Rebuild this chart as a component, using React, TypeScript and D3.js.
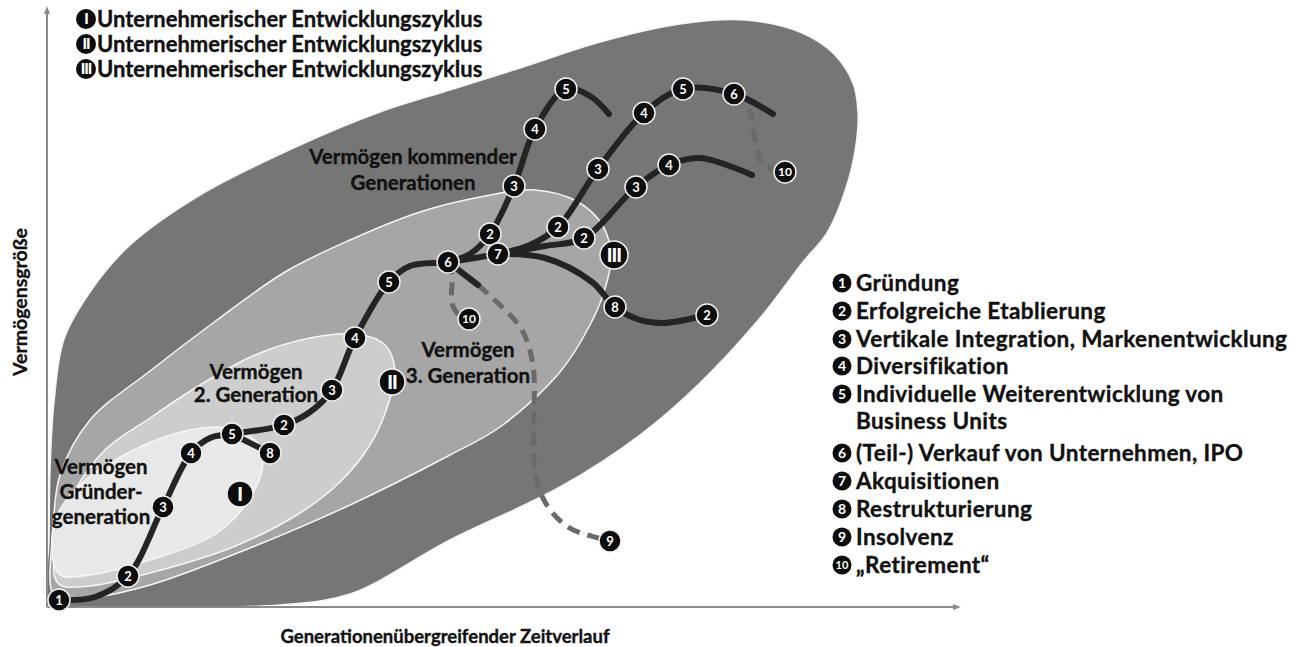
import React from "react";
import * as d3 from "d3";

type P = [number, number];

// Conceptual units: x = generation-spanning time, y = size of wealth
const timeDomain: P = [0, 910];
const wealthDomain: P = [0, 597];

// Wealth regions (closed outlines)
const outerRegion: P[] = [
  [1, 7], [2, 67], [3, 137], [7, 205], [17, 268], [43, 315], [83, 362], [153, 412], [253, 462],
  [333, 495], [406, 518], [473, 539], [553, 565], [633, 583], [698, 587], [753, 575], [786, 554],
  [806, 524], [811, 495], [809, 462], [799, 419], [780, 374], [756, 345], [713, 289], [653, 224],
  [593, 172], [513, 120], [403, 67], [303, 13], [233, 2], [153, 0], [63, 0], [13, 1],
];
const thirdRegion: P[] = [
  [5, 15], [6, 77], [13, 132], [43, 187], [103, 236], [170, 287], [238, 335], [303, 367], [373, 395],
  [433, 410], [488, 417], [531, 405], [556, 381], [564, 349], [557, 315], [543, 282], [513, 235],
  [453, 180], [403, 152], [303, 102], [203, 59], [103, 22], [43, 9], [13, 9],
];
const secondRegion: P[] = [
  [8, 29], [11, 77], [28, 117], [58, 157], [103, 189], [153, 222], [208, 252], [263, 269], [310, 273],
  [338, 262], [348, 237], [341, 202], [323, 162], [293, 125], [253, 94], [186, 60], [103, 34], [43, 21], [15, 21],
];
const founderRegion: P[] = [
  [7, 42], [8, 87], [33, 122], [93, 160], [143, 177], [180, 179], [208, 167], [216, 147], [205, 112],
  [170, 74], [103, 47], [43, 32], [15, 31],
];
const regionFills = ["#767676", "#a6a6a6", "#cdcdcd", "#e8e8e8"];

// Development paths
const mainPath: P[] = [
  [12, 7], [48, 10], [81, 31], [116, 100], [144, 154], [163, 169], [185, 173], [237, 182], [263, 195],
  [285, 217], [308, 269], [342, 325], [363, 341], [401, 345], [451, 353],
];
const restructPath: P[] = [[185, 173], [223, 154]];
const branchA: P[] = [[401, 345], [423, 353], [443, 373], [467, 421], [488, 478], [519, 518], [543, 511], [562, 493]];
const branchB: P[] = [[451, 353], [483, 362], [511, 380], [551, 438], [597, 494], [636, 518], [687, 513], [726, 493]];
const branchC: P[] = [[451, 353], [498, 361], [537, 369], [589, 420], [622, 442], [653, 449], [705, 432]];
const branchD: P[] = [[451, 353], [498, 349], [545, 325], [568, 300], [593, 287], [616, 284], [660, 292]];
const insolvencyStart: P[] = [[401, 345], [431, 322]];
const insolvencyPath: P[] = [[431, 322], [453, 302], [475, 277], [486, 242], [487, 187], [488, 137], [498, 105], [521, 80], [551, 69], [563, 66]];
const retirementLow: P[] = [[401, 345], [405, 332], [405, 304], [412, 292], [422, 288]];
const retirementHigh: P[] = [[687, 513], [703, 495], [708, 467], [715, 444], [726, 437], [738, 435]];

// Numbered step markers [label, time, wealth]
const stepMarkers: [string, number, number][] = [
  ["1", 12, 7], ["2", 81, 31], ["3", 116, 100], ["4", 144, 154], ["5", 185, 173], ["8", 223, 154],
  ["2", 237, 182], ["3", 285, 217], ["4", 308, 269], ["5", 342, 325], ["6", 401, 345],
  ["2", 443, 373], ["3", 467, 421], ["4", 488, 478], ["5", 519, 518],
  ["2", 511, 380], ["3", 551, 438], ["4", 597, 494], ["5", 636, 518], ["6", 687, 513], ["10", 738, 435],
  ["2", 537, 369], ["3", 589, 420], ["4", 622, 442],
  ["8", 568, 300], ["2", 660, 292], ["10", 422, 288], ["9", 563, 66], ["7", 451, 353],
];
const cycleMarkers: [string, number, number][] = [["I", 193, 113], ["II", 345, 225], ["III", 567, 352]];

// Region labels [line, time, wealth]
const regionLabels: [string, number, number][] = [
  ["Vermögen kommender", 366, 450], ["Generationen", 366, 424],
  ["Vermögen", 421, 257], ["3. Generation", 421, 231],
  ["Vermögen", 209, 235], ["2. Generation", 209, 212],
  ["Vermögen", 54, 140], ["Gründer-", 54, 115], ["generation", 54, 90],
];

const cycleTitles = ["I", "II", "III"];
const cycleTitleText = "Unternehmerischer Entwicklungszyklus";
const legendNumbers = ["1", "2", "3", "4", "5", "", "6", "7", "8", "9", "10"];
const legendTexts = [
  "Gründung", "Erfolgreiche Etablierung", "Vertikale Integration, Markenentwicklung", "Diversifikation",
  "Individuelle Weiterentwicklung von", "Business Units", "(Teil-) Verkauf von Unternehmen, IPO",
  "Akquisitionen", "Restrukturierung", "Insolvenz", "„Retirement“",
];
const legendRowY = [283, 311, 339, 366, 394, 421, 453, 481, 509, 537, 565];
const xAxisTitle = "Generationenübergreifender Zeitverlauf";
const yAxisTitle = "Vermögensgröße";

const FONT = "Lato, 'Open Sans', sans-serif";
const INK = "#111";

export default function App() {
  const x = d3.scaleLinear().domain(timeDomain).range([47, 957]);
  const y = d3.scaleLinear().domain(wealthDomain).range([607, 10]);
  const closed = d3.line<P>().x((d) => x(d[0])).y((d) => y(d[1])).curve(d3.curveCatmullRomClosed.alpha(0.5));
  const open = d3.line<P>().x((d) => x(d[0])).y((d) => y(d[1])).curve(d3.curveCatmullRom.alpha(0.5));
  const regions = [outerRegion, thirdRegion, secondRegion, founderRegion];
  const solid = [mainPath, restructPath, branchA, branchB, branchC, branchD, insolvencyStart];
  const dashed = [insolvencyPath, retirementLow, retirementHigh];
  const txt = { fontWeight: 700, fill: INK, stroke: INK, strokeWidth: 0.35 } as const;

  return (
    <svg width={1304} height={647} style={{ position: "absolute", left: 0, top: 0, background: "#fff" }} fontFamily={FONT}>
      {regions.map((r, i) => (
        <path key={"r" + i} d={closed(r) || ""} fill={regionFills[i]} stroke="#f6f6f6" strokeWidth={1.5} />
      ))}
      {/* axes */}
      <line x1={x(0)} y1={y(0)} x2={x(0)} y2={y(wealthDomain[1]) + 2} stroke="#8a8a8a" strokeWidth={2} />
      <path d={`M${x(0) - 3},${y(wealthDomain[1]) + 4} L${x(0)},${y(wealthDomain[1]) - 4} L${x(0) + 3},${y(wealthDomain[1]) + 4} Z`} fill="#8a8a8a" />
      <line x1={x(0)} y1={y(0)} x2={x(timeDomain[1]) - 2} y2={y(0)} stroke="#8a8a8a" strokeWidth={2} />
      <path d={`M${x(timeDomain[1]) - 4},${y(0) - 3} L${x(timeDomain[1]) + 4},${y(0)} L${x(timeDomain[1]) - 4},${y(0) + 3} Z`} fill="#8a8a8a" />

      {dashed.map((p, i) => (
        <path key={"d" + i} d={open(p) || ""} fill="none" stroke="#6a6a6a" strokeWidth={5} strokeDasharray="13 8" />
      ))}
      {solid.map((p, i) => (
        <path key={"s" + i} d={open(p) || ""} fill="none" stroke="#242424" strokeWidth={6} strokeLinecap="round" />
      ))}

      {stepMarkers.map(([lab, t, w], i) => (
        <g key={"m" + i} transform={`translate(${x(t)},${y(w)})`}>
          <circle r={11} fill="#0d0d0d" stroke="#f0f0f0" strokeWidth={1.5} />
          <text textAnchor="middle" dy="0.36em" fill="#fff" fontWeight={700} fontSize={lab.length > 1 ? 12 : 13}>{lab}</text>
        </g>
      ))}
      {cycleMarkers.map(([lab, t, w], i) => (
        <g key={"c" + i} transform={`translate(${x(t)},${y(w)})`}>
          <circle r={lab.length > 2 ? 14 : 13} fill="#0d0d0d" stroke="#f0f0f0" strokeWidth={1.5} />
          <text textAnchor="middle" dy="0.36em" fill="#fff" fontWeight={900} fontSize={19} letterSpacing={lab.length > 1 ? -1 : 0}>{lab}</text>
        </g>
      ))}

      {regionLabels.map(([s, t, w], i) => (
        <text key={"l" + i} x={x(t)} y={y(w)} dy="0.36em" textAnchor="middle" fontSize={20.5} {...txt}>{s}</text>
      ))}

      {/* cycle titles */}
      {cycleTitles.map((c, i) => (
        <g key={"t" + i}>
          <circle cx={86} cy={19 + i * 25} r={10} fill="#0d0d0d" />
          <text x={86} y={19 + i * 25} dy="0.36em" textAnchor="middle" fill="#fff" fontWeight={900} fontSize={15} letterSpacing={-1}>{c}</text>
          <text x={97} y={19 + i * 25} dy="0.36em" fontSize={22} {...txt}>{cycleTitleText}</text>
        </g>
      ))}

      {/* legend */}
      {legendTexts.map((s, i) => (
        <g key={"g" + i}>
          {legendNumbers[i] && <circle cx={842} cy={legendRowY[i]} r={9.5} fill="#0d0d0d" />}
          {legendNumbers[i] && (
            <text x={842} y={legendRowY[i]} dy="0.36em" textAnchor="middle" fill="#fff" fontWeight={700} fontSize={legendNumbers[i].length > 1 ? 11 : 14}>{legendNumbers[i]}</text>
          )}
          <text x={856} y={legendRowY[i]} dy="0.36em" fontSize={22.5} letterSpacing={0.4} {...txt}>{s}</text>
        </g>
      ))}

      {/* axis titles */}
      <text x={445} y={636} dy="0.36em" textAnchor="middle" fontSize={18.5} {...txt}>{xAxisTitle}</text>
      <text transform="translate(20,302) rotate(-90)" dy="0.36em" textAnchor="middle" fontSize={19.5} {...txt}>{yAxisTitle}</text>
    </svg>
  );
}
